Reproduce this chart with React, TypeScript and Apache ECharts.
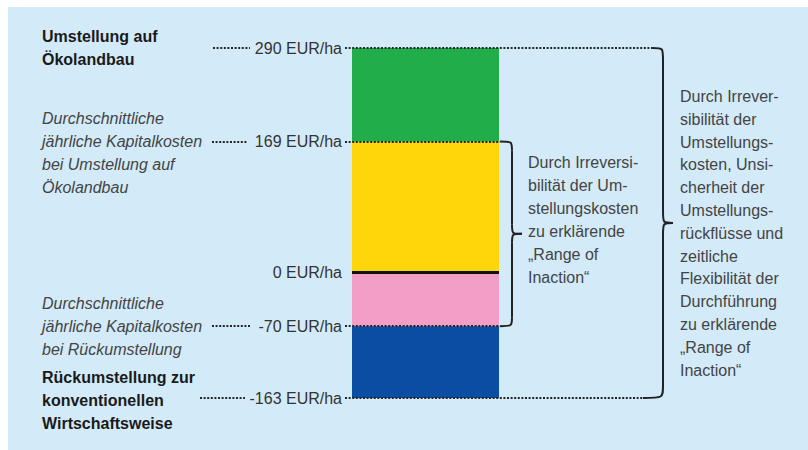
import { useEffect, useRef } from "react";
import * as echarts from "echarts";

// Level boundaries of the stacked bar (EUR/ha)
const levels = [290, 169, 0, -70, -163];
const levelUnit = "EUR/ha";
const barCategory = ["Kosten"];
const segmentNames = [
  "Kapitalkosten Umstellung",
  "Umstellung auf Ökolandbau",
  "Kapitalkosten Rückumstellung",
  "Rückumstellung",
];
const segmentColors = ["#ffd60a", "#22ad4b", "#f29ec6", "#0a4ea3"];

const leftBlocks = [
  { lines: ["Umstellung auf", "Ökolandbau"], bold: true, anchorLevel: 290, anchorLine: 1 },
  {
    lines: ["Durchschnittliche", "jährliche Kapitalkosten", "bei Umstellung auf", "Ökolandbau"],
    bold: false,
    anchorLevel: 169,
    anchorLine: 1.5,
  },
  {
    lines: ["Durchschnittliche", "jährliche Kapitalkosten", "bei Rückumstellung"],
    bold: false,
    anchorLevel: -70,
    anchorLine: 1.5,
  },
  {
    lines: ["Rückumstellung zur", "konventionellen", "Wirtschaftsweise"],
    bold: true,
    anchorLevel: -163,
    anchorLine: 1.4,
  },
];
const middleText = [
  "Durch Irreversi-",
  "bilität der Um-",
  "stellungskosten",
  "zu erklärende",
  "„Range of",
  "Inaction“",
];
const rightText = [
  "Durch Irrever-",
  "sibilität der",
  "Umstellungs-",
  "kosten, Unsi-",
  "cherheit der",
  "Umstellungs-",
  "rückflüsse und",
  "zeitliche",
  "Flexibilität der",
  "Durchführung",
  "zu erklärende",
  "„Range of",
  "Inaction“",
];

const FONT = '"Liberation Sans", Arial, sans-serif';

export default function App() {
  const ref = useRef<HTMLDivElement>(null);

  useEffect(() => {
    if (!ref.current) return;
    const chart = echarts.init(ref.current, undefined, { renderer: "svg" });

    const segValues = [
      levels[1] - levels[2],
      levels[0] - levels[1],
      levels[3] - levels[2],
      levels[4] - levels[3],
    ];

    const dotted = { type: [2, 1.6], width: 2, color: "#262626" };
    const dotLine = (v: number, x1: number, x2: number) => [
      { yAxis: v, x: x1 },
      { yAxis: v, x: x2 },
    ];

    const option: any = {
      animation: false,
      backgroundColor: "transparent",
      grid: { left: 352, width: 147, top: 48, height: 350 },
      xAxis: {
        type: "category",
        data: barCategory,
        show: false,
      },
      yAxis: {
        type: "value",
        min: levels[4],
        max: levels[0],
        axisLine: { show: false },
        axisTick: { show: false },
        splitLine: { show: false },
        axisLabel: {
          customValues: levels,
          formatter: (v: number) => `${v} ${levelUnit}`,
          fontSize: 16,
          fontFamily: FONT,
          color: "#333",
          margin: 10,
          padding: [5, 0, 0, 0],
        },
      },
      series: segValues.map((v, i) => ({
        name: segmentNames[i],
        type: "bar",
        stack: "total",
        barWidth: "100%",
        data: [v],
        itemStyle: { color: segmentColors[i] },
        silent: true,
        markLine:
          i === 0
            ? {
                silent: true,
                symbol: "none",
                label: { show: false },
                lineStyle: { type: "solid", width: 3, color: "#111" },
                data: [dotLine(levels[2], 352, 499)],
              }
            : i === 3
            ? {
                silent: true,
                symbol: "none",
                label: { show: false },
                lineStyle: dotted,
                data: [
                  dotLine(levels[0], 345, 653),
                  dotLine(levels[1], 345, 500),
                  dotLine(levels[3], 345, 500),
                  dotLine(levels[4], 345, 643),
                  dotLine(levels[0], 213, 250),
                  dotLine(levels[1], 212, 248),
                  dotLine(levels[3], 212, 250),
                  dotLine(levels[4], 200, 245),
                ],
              }
            : undefined,
      })),
    };
    chart.setOption(option);

    const py = (v: number) => chart.convertToPixel({ yAxisIndex: 0 }, v) as number;
    const stroke = { stroke: "#222", lineWidth: 2, fill: "none" };
    const brace = (x0: number, x0b: number, yTop: number, yBot: number, xs: number, xt: number, r: number) => {
      const ym = (yTop + yBot) / 2;
      return [
        { type: "bezierCurve", shape: { x1: x0, y1: yTop, cpx1: xs, cpy1: yTop, cpx2: xs, cpy2: yTop, x2: xs, y2: yTop + r }, style: stroke },
        { type: "line", shape: { x1: xs, y1: yTop + r, x2: xs, y2: ym - r }, style: stroke },
        { type: "bezierCurve", shape: { x1: xs, y1: ym - r, cpx1: xs, cpy1: ym, cpx2: xs, cpy2: ym, x2: xt, y2: ym }, style: stroke },
        { type: "bezierCurve", shape: { x1: xt, y1: ym, cpx1: xs, cpy1: ym, cpx2: xs, cpy2: ym, x2: xs, y2: ym + r }, style: stroke },
        { type: "line", shape: { x1: xs, y1: ym + r, x2: xs, y2: yBot - r }, style: stroke },
        { type: "bezierCurve", shape: { x1: xs, y1: yBot - r, cpx1: xs, cpy1: yBot, cpx2: xs, cpy2: yBot, x2: x0b, y2: yBot }, style: stroke },
      ];
    };

    const LH = 23;
    const graphics: any[] = [];
    leftBlocks.forEach((b) => {
      const yc = py(b.anchorLevel);
      graphics.push({
        type: "text",
        x: 42,
        y: yc - LH * b.anchorLine,
        style: {
          text: b.lines.join("\n"),
          fontFamily: FONT,
          fontSize: 16,
          fontWeight: b.bold ? "bold" : "normal",
          fontStyle: b.bold ? "normal" : "italic",
          fill: b.bold ? "#1a1a1a" : "#444",
          lineHeight: LH,
          verticalAlign: "top",
        },
      });
    });
    graphics.push({
      type: "text",
      x: 528,
      y: 151,
      style: {
        text: middleText.join("\n"),
        fontFamily: FONT,
        fontSize: 16,
        fill: "#444",
        lineHeight: 23,
        verticalAlign: "top",
      },
    });
    graphics.push({
      type: "text",
      x: 680,
      y: 85,
      style: {
        text: rightText.join("\n"),
        fontFamily: FONT,
        fontSize: 16,
        fill: "#444",
        lineHeight: 22.8,
        verticalAlign: "top",
      },
    });
    graphics.push(...brace(500, 500, py(levels[1]), py(levels[3]), 512, 522, 9));
    graphics.push(...brace(653, 643, py(levels[0]), py(levels[4]), 663, 673, 12));

    chart.setOption({ graphic: graphics });

    return () => chart.dispose();
  }, []);

  return (
    <div style={{ position: "fixed", left: 0, top: 0, width: 808, height: 450, background: "#ffffff" }}>
      <div style={{ position: "absolute", left: 8, top: 7, right: 0, bottom: 0, background: "#d3eaf8" }} />
      <div ref={ref} style={{ position: "absolute", left: 0, top: 0, width: 808, height: 450 }} />
    </div>
  );
}
